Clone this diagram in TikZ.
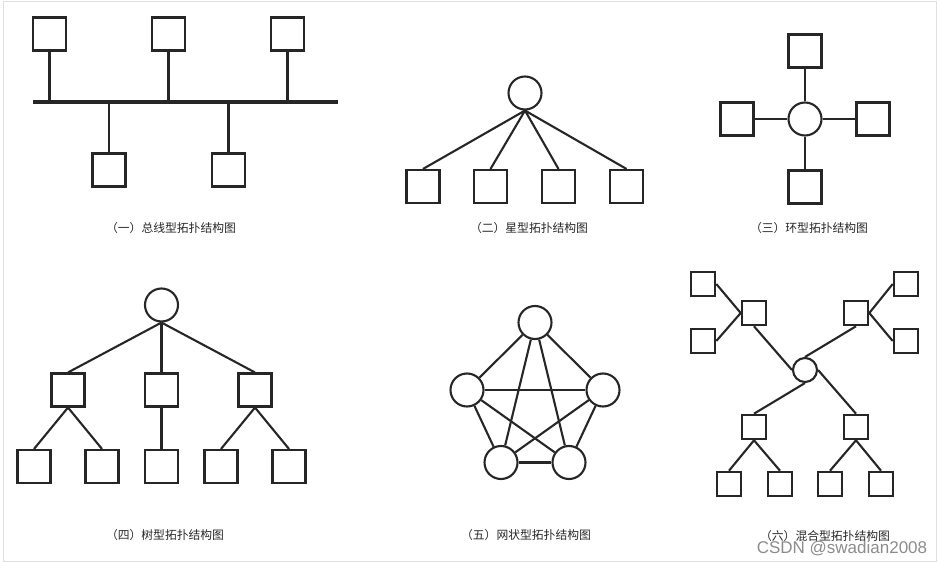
\documentclass[tikz,border=0pt]{standalone}
\usepackage{fontspec}
\newfontfamily\cjk{Noto Sans CJK SC}
\usetikzlibrary{positioning,calc}

\begin{document}
\begin{tikzpicture}[x=1pt, y=-1pt, color=black!85, line width=2.1pt,
box/.style={draw, line width=2.1pt, minimum size=33pt, inner sep=0pt},
sbox/.style={box, minimum size=24.5pt},
hub/.style={circle, draw, line width=2.1pt, minimum size=33pt, inner sep=0pt},
shub/.style={hub, minimum size=24pt},
caption/.style={font=\cjk\fontsize{11.8}{14}\selectfont, text=black!85}]

\useasboundingbox (0,0) rectangle (939,564);
\draw[black!12, line width=1pt] (3,2) rectangle (936,561);

%bus
\coordinate (busL) at (33,102);
\coordinate (busR) at (338,102);
\draw[line width=3.8pt] (busL) -- (busR);
\foreach \n/\x in {1/49.5,2/168.5,3/287.5}
{   \node[box] (bt\n) at (\x,34) {};
	\draw (bt\n.south) -- (bt\n.south |- busL);
}
\foreach \n/\x in {1/109,2/228.5}
{   \node[box] (bb\n) at (\x,170) {};
	\draw (bb\n.north) -- (bb\n.north |- busL);
}
\node[caption] (c1) at (171,228) {（一）总线型拓扑结构图};

%star
\node[hub] (s0) at (525,93) {};
\foreach \n/\x in {1/423,2/490.5,3/558.5,4/626.5}
{   \node[box] (s\n) at (\x,186.5) {};
	\draw (s0.south) -- (s\n.north);
}
\node[caption] (c2) at (529,228) {（二）星型拓扑结构图};

%ring
\node[hub] (r0) at (805,119) {};
\path
	node[box] (r1) at (805,51) {}
	node[box] (r2) at (737,119) {}
	node[box] (r3) at (873,119) {}
	node[box] (r4) at (805,187) {};
\foreach \n in {1,...,4}
	\draw (r0) -- (r\n);
\node[caption] (c3) at (809,228) {（三）环型拓扑结构图};

%tree
\node[hub] (t0) at (161.5,305) {};
\foreach \n/\x in {1/68,2/161.5,3/255}
{   \node[box] (t\n) at (\x,390) {};
	\draw (t0.south) -- (t\n.north);
}
\foreach \p/\c/\x in {1/11/34,1/12/102,2/21/161.5,3/31/221,3/32/289}
{   \node[box] (t\c) at (\x,466.5) {};
	\draw (t\p.south) -- (t\c.north);
}
\node[caption] (c4) at (165,535) {（四）树型拓扑结构图};

%mesh
\path
	node[hub] (m1) at (535,322.5) {}
	node[hub] (m2) at (467,390) {}
	node[hub] (m3) at (603,390) {}
	node[hub] (m4) at (501,462.5) {}
	node[hub] (m5) at (569,462.5) {};
\foreach \a/\b in {1/2,1/3,1/4,1/5,2/3,2/4,2/5,3/4,3/5,4/5}
	\draw (m\a) -- (m\b);
\node[caption] (c5) at (526,535) {（五）网状型拓扑结构图};

%mixed
\node[shub] (h0) at (805,370) {};
\path
	node[sbox] (h1) at (754,313) {}
	node[sbox] (h2) at (856,313) {}
	node[sbox] (h3) at (754,427) {}
	node[sbox] (h4) at (856,427) {};
\foreach \n/\x/\y in {11/703/284,12/703/341,21/906/284,22/906/341,31/729/484,32/780/484,41/830/484,42/881/484}
	\node[sbox] (h\n) at (\x,\y) {};
\draw (h11.east) -- (h1.west);
\draw (h12.east) -- (h1.west);
\draw (h21.west) -- (h2.east);
\draw (h22.west) -- (h2.east);
\draw (h1.south) -- (h0.west);
\draw (h2.south) -- (h0.north);
\draw (h0.south) -- (h3.north);
\draw (h0.east) -- (h4.north);
\foreach \p in {3,4}
{   \draw (h\p.south) -- (h\p1.north);
	\draw (h\p.south) -- (h\p2.north);
}
\node[caption] (c6) at (825,536) {（六）混合型拓扑结构图};

% watermark
\node[font=\fontspec{Liberation Sans}\fontsize{17}{19}\selectfont, text=black!45] (wm) at (842,549) {CSDN @swadian2008};
\end{tikzpicture}
\end{document}
